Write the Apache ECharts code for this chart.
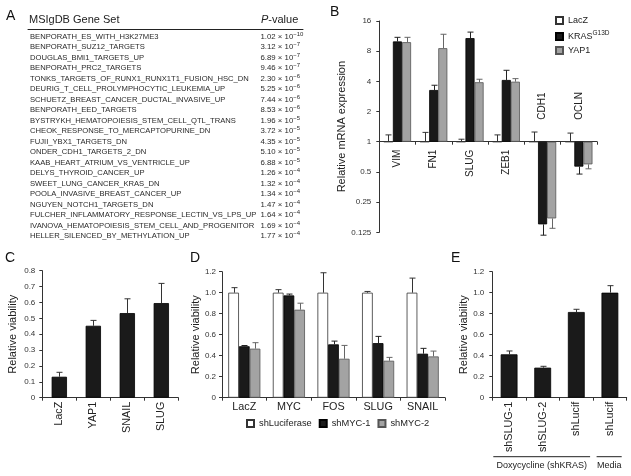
<!DOCTYPE html>
<html><head><meta charset="utf-8">
<script src="https://cdn.jsdelivr.net/npm/echarts@6/dist/echarts.min.js"></script>
<style>html,body{margin:0;padding:0;background:#fff}#c{width:631px;height:476px}</style>
</head><body><div id="c"></div><script>
// ---------- Panel A data ----------
const geneSets = [
  'BENPORATH_ES_WITH_H3K27ME3','BENPORATH_SUZ12_TARGETS','DOUGLAS_BMI1_TARGETS_UP','BENPORATH_PRC2_TARGETS',
  'TONKS_TARGETS_OF_RUNX1_RUNX1T1_FUSION_HSC_DN','DEURIG_T_CELL_PROLYMPHOCYTIC_LEUKEMIA_UP',
  'SCHUETZ_BREAST_CANCER_DUCTAL_INVASIVE_UP','BENPORATH_EED_TARGETS','BYSTRYKH_HEMATOPOIESIS_STEM_CELL_QTL_TRANS',
  'CHEOK_RESPONSE_TO_MERCAPTOPURINE_DN','FUJII_YBX1_TARGETS_DN','ONDER_CDH1_TARGETS_2_DN',
  'KAAB_HEART_ATRIUM_VS_VENTRICLE_UP','DELYS_THYROID_CANCER_UP','SWEET_LUNG_CANCER_KRAS_DN',
  'POOLA_INVASIVE_BREAST_CANCER_UP','NGUYEN_NOTCH1_TARGETS_DN','FULCHER_INFLAMMATORY_RESPONSE_LECTIN_VS_LPS_UP',
  'IVANOVA_HEMATOPOIESIS_STEM_CELL_AND_PROGENITOR','HELLER_SILENCED_BY_METHYLATION_UP'
];
const pMantissa = ['1.02','3.12','6.89','9.46','2.30','5.25','7.44','8.53','1.96','3.72','4.35','5.10','6.88','1.26','1.32','1.34','1.47','1.64','1.69','1.77'];
const pExponent = [-10,-7,-7,-7,-6,-6,-6,-6,-5,-5,-5,-5,-5,-4,-4,-4,-4,-4,-4,-4];

// ---------- Panel B data ----------
const bCategories = ['VIM','FN1','SLUG','ZEB1','CDH1','OCLN'];
const bTicks = [0.125,0.25,0.5,1,2,4,8,16];
const bLacZ = [1,1,1,1,1,1];
const bLacZErr = [1.17,1.24,1.06,1.17,1.25,1.22];
const bKras = [10.0,3.28,10.8,4.13,0.15,0.565];
const bKrasErr = [11.0,3.66,12.4,5.16,0.117,0.476];
const bYap1 = [9.84,8.57,3.92,3.97,0.172,0.595];
const bYap1Err = [11.0,11.8,4.2,4.26,0.137,0.537];

// ---------- Panel C data ----------
const cCategories = ['LacZ','YAP1','SNAIL','SLUG'];
const cValues = [0.132,0.453,0.533,0.596];
const cErr = [0.16,0.487,0.623,0.72];

// ---------- Panel D data ----------
const dCategories = ['LacZ','MYC','FOS','SLUG','SNAIL'];
const dShLuc = [1,1,1,1,1];
const dShLucErr = [1.048,1.029,1.19,1.012,1.139];
const dShMyc1 = [0.49,0.974,0.508,0.52,0.419];
const dShMyc1Err = [0.497,0.987,0.539,0.584,0.47];
const dShMyc2 = [0.467,0.838,0.371,0.352,0.393];
const dShMyc2Err = [0.524,0.90,0.498,0.384,0.444];

// ---------- Panel E data ----------
const eCategories = ['shSLUG-1','shSLUG-2','shLucif','shLucif'];
const eValues = [0.413,0.286,0.816,1.0];
const eErr = [0.445,0.299,0.842,1.067];
const eGroups = ['Doxycycline (shKRAS)','Media'];

const FONT = "'Liberation Sans', Arial, Helvetica, sans-serif";
const INK = '#222';
const WHITE = '#ffffff', BLACK = '#1a1a1a', GRAY = '#a3a3a3';
const TICKFS = 8;

function errorBars(xIdx, yIdx, values, errs, k, n, gap, color) {
  return {
    type: 'custom', xAxisIndex: xIdx, yAxisIndex: yIdx, z: 5, silent: true,
    data: values.map((v, i) => [i, v, errs[i]]),
    encode: { x: 0, y: [1, 2] },
    renderItem(params, api) {
      const i = api.value(0), v = api.value(1), e = api.value(2);
      const p0 = api.coord([i, v]), p1 = api.coord([i, e]);
      const band = api.coord([1, v])[0] - api.coord([0, v])[0];
      const bw = band * (1 - gap) / n;
      const x = Math.round(p0[0] + (k - (n - 1) / 2) * bw) + 0.5;
      const st = { stroke: color, lineWidth: 1 };
      return { type: 'group', children: [
        { type: 'line', shape: { x1: x, y1: p0[1], x2: x, y2: p1[1] }, style: st },
        { type: 'line', shape: { x1: x - 3, y1: p1[1], x2: x + 3, y2: p1[1] }, style: st }
      ]};
    }
  };
}

function vAxis(grid, max, interval, nameGap, margin) {
  return {
    type: 'value', gridIndex: grid, min: 0, max: max, interval: interval,
    name: 'Relative viability', nameLocation: 'middle', nameGap: nameGap,
    nameTextStyle: { fontSize: 11, color: INK, fontFamily: FONT },
    axisLine: { show: true, lineStyle: { color: '#333', width: 1 } },
    axisTick: { show: true, length: 3, lineStyle: { color: '#333' } },
    axisLabel: { fontSize: TICKFS, color: '#333', margin: margin,
      formatter: v => v === 0 ? '0' : v.toFixed(1) },
    splitLine: { show: false }
  };
}
function cAxis(grid, data, rotate, margin) {
  return {
    type: 'category', gridIndex: grid, data: data,
    axisLine: { show: true, onZero: false, lineStyle: { color: '#333', width: 1 } },
    axisTick: { show: true, length: 3, lineStyle: { color: '#333' } },
    axisLabel: { interval: 0, rotate: rotate, fontSize: 10.8, color: INK, margin: margin, fontFamily: FONT }
  };
}

const chart = echarts.init(document.getElementById('c'), null, { renderer: 'canvas' });
const titleStyle = { fontSize: 14, fontWeight: 'normal', color: '#111', fontFamily: FONT };

const option = {
  animation: false,
  backgroundColor: '#fff',
  textStyle: { fontFamily: FONT },
  title: [
    { text: 'A', left: 6, top: 9, padding: 0, textStyle: titleStyle },
    { text: 'B', left: 330, top: 5, padding: 0, textStyle: titleStyle },
    { text: 'C', left: 5, top: 251, padding: 0, textStyle: titleStyle },
    { text: 'D', left: 190, top: 251, padding: 0, textStyle: titleStyle },
    { text: 'E', left: 451, top: 251, padding: 0, textStyle: titleStyle },
    { text: 'MSIgDB Gene Set', left: 29, top: 14, padding: 0,
      textStyle: { fontSize: 11, fontWeight: 'normal', color: INK, fontFamily: FONT } },
    { text: '{i|P}-value', left: 261, top: 14, padding: 0,
      textStyle: { fontSize: 11, fontWeight: 'normal', color: INK, fontFamily: FONT,
        rich: { i: { fontStyle: 'italic', fontSize: 11, color: INK, fontFamily: FONT } } } }
  ],
  legend: [
    { orient: 'vertical', left: 555, top: 16, itemWidth: 7, itemHeight: 7, itemGap: 5, padding: 0,
      data: ['LacZ', 'KRAS', 'YAP1'], icon: 'rect',
      textStyle: { fontSize: 9, color: INK, fontFamily: FONT,
        rich: { n: { fontSize: 9, color: INK, lineHeight: 13 }, s: { fontSize: 6.5, color: INK, verticalAlign: 'top' } } },
      formatter: name => name === 'KRAS' ? '{n|KRAS}{s|G13D}' : name },
    { orient: 'horizontal', left: 246, top: 419, itemWidth: 7, itemHeight: 7, itemGap: 7, padding: 0,
      data: ['shLuciferase', 'shMYC-1', 'shMYC-2'], icon: 'rect',
      textStyle: { fontSize: 9.3, color: INK, fontFamily: FONT } }
  ],
  grid: [
    { left: 28, top: 31.5, width: 275, height: 210 },      // 0 A names
    { left: 259, top: 31.5, width: 45, height: 210 },      // 1 A p-values
    { left: 379.3, top: 21, width: 217.7, height: 211.3 }, // 2 B
    { left: 42.3, top: 270.7, width: 136, height: 127 },   // 3 C
    { left: 222, top: 271.7, width: 223, height: 126 },    // 4 D
    { left: 492.3, top: 271.7, width: 134.4, height: 126 } // 5 E
  ],
  xAxis: [
    { type: 'value', gridIndex: 0, min: 0, max: 1, position: 'top', offset: 2.5,
      axisLine: { show: true, onZero: false, lineStyle: { color: '#222', width: 1 } },
      axisTick: { show: false }, axisLabel: { show: false }, splitLine: { show: false } },
    { type: 'value', gridIndex: 1, min: 0, max: 1, show: false },
    { type: 'category', gridIndex: 2, data: bCategories, position: 'bottom', offset: -90.6,
      axisLine: { show: true, onZero: false, lineStyle: { color: '#333', width: 1 } },
      axisTick: { show: true, length: 3, lineStyle: { color: '#333' } },
      axisLabel: { interval: 0, rotate: 90, fontSize: 10, color: INK, margin: 8, fontFamily: FONT,
        formatter: (v, i) => i < 4 ? v : '' } },
    { type: 'category', gridIndex: 2, data: bCategories, position: 'bottom', offset: -90.6,
      axisLine: { show: false, onZero: false }, axisTick: { show: false },
      axisLabel: { interval: 0, inside: true, rotate: 90, fontSize: 10, color: INK, margin: 22, fontFamily: FONT,
        formatter: (v, i) => i >= 4 ? v : '' } },
    cAxis(3, cCategories, 90, 4),
    cAxis(4, dCategories, 0, 4),
    cAxis(5, eCategories, 90, 4)
  ],
  yAxis: [
    { type: 'category', gridIndex: 0, data: geneSets, inverse: true,
      axisLine: { show: false }, axisTick: { show: false }, splitLine: { show: false },
      axisLabel: { inside: true, interval: 0, margin: 2, fontSize: 7.65, color: '#2a2a2a', fontFamily: FONT } },
    { type: 'category', gridIndex: 1, data: pMantissa, inverse: true,
      axisLine: { show: false }, axisTick: { show: false }, splitLine: { show: false },
      axisLabel: { inside: true, interval: 0, margin: 1.5, color: '#2a2a2a', fontFamily: FONT,
        formatter: (v, i) => '{m|' + v + ' \u00d7 10}{s|\u2212' + Math.abs(pExponent[i]) + '}',
        rich: { m: { fontSize: 7.8, color: '#2a2a2a', lineHeight: 11 }, s: { fontSize: 6, color: '#2a2a2a', verticalAlign: 'top' } } } },
    { type: 'log', logBase: 2, gridIndex: 2, min: bTicks[0], max: bTicks[bTicks.length - 1], interval: 1,
      name: 'Relative mRNA expression', nameLocation: 'middle', nameGap: 27,
      nameTextStyle: { fontSize: 11, color: INK, fontFamily: FONT },
      axisLine: { show: true, onZero: false, lineStyle: { color: '#333', width: 1 } },
      axisTick: { show: true, length: 3, lineStyle: { color: '#333' } },
      axisLabel: { fontSize: TICKFS, color: '#333', margin: 8, formatter: v => String(+(+v).toPrecision(6)) },
      splitLine: { show: false } },
    vAxis(3, 0.8, 0.1, 24, 7),
    vAxis(4, 1.2, 0.2, 17, 6),
    vAxis(5, 1.2, 0.2, 21, 8)
  ],
  series: [
    // B
    { name: 'LacZ', type: 'bar', xAxisIndex: 2, yAxisIndex: 2, data: bLacZ, barGap: '0%', barCategoryGap: '25%',
      itemStyle: { color: WHITE, borderColor: '#333', borderWidth: 0.8 } },
    { name: 'KRAS', type: 'bar', xAxisIndex: 2, yAxisIndex: 2, data: bKras, barGap: '0%', barCategoryGap: '25%',
      itemStyle: { color: BLACK, borderColor: '#000', borderWidth: 0.8 } },
    { name: 'YAP1', type: 'bar', xAxisIndex: 2, yAxisIndex: 2, data: bYap1, barGap: '0%', barCategoryGap: '25%',
      itemStyle: { color: GRAY, borderColor: '#555', borderWidth: 0.8 } },
    errorBars(2, 2, bLacZ, bLacZErr, 0, 3, 0.25, '#333'),
    errorBars(2, 2, bKras, bKrasErr, 1, 3, 0.25, '#222'),
    errorBars(2, 2, bYap1, bYap1Err, 2, 3, 0.25, '#666'),
    // C
    { name: 'C', type: 'bar', xAxisIndex: 4, yAxisIndex: 3, data: cValues, barCategoryGap: '55%',
      itemStyle: { color: BLACK, borderColor: '#000', borderWidth: 0.8 } },
    errorBars(4, 3, cValues, cErr, 0, 1, 0.55, '#333'),
    // D
    { name: 'shLuciferase', type: 'bar', xAxisIndex: 5, yAxisIndex: 4, data: dShLuc, barGap: '0%', barCategoryGap: '28%',
      itemStyle: { color: WHITE, borderColor: '#333', borderWidth: 0.8 } },
    { name: 'shMYC-1', type: 'bar', xAxisIndex: 5, yAxisIndex: 4, data: dShMyc1, barGap: '0%', barCategoryGap: '28%',
      itemStyle: { color: BLACK, borderColor: '#000', borderWidth: 0.8 } },
    { name: 'shMYC-2', type: 'bar', xAxisIndex: 5, yAxisIndex: 4, data: dShMyc2, barGap: '0%', barCategoryGap: '28%',
      itemStyle: { color: GRAY, borderColor: '#555', borderWidth: 0.8 } },
    errorBars(5, 4, dShLuc, dShLucErr, 0, 3, 0.28, '#333'),
    errorBars(5, 4, dShMyc1, dShMyc1Err, 1, 3, 0.28, '#222'),
    errorBars(5, 4, dShMyc2, dShMyc2Err, 2, 3, 0.28, '#666'),
    // E
    { name: 'E', type: 'bar', xAxisIndex: 6, yAxisIndex: 5, data: eValues, barCategoryGap: '50%',
      itemStyle: { color: BLACK, borderColor: '#000', borderWidth: 0.8 } },
    errorBars(6, 5, eValues, eErr, 0, 1, 0.5, '#333')
  ]
};
chart.setOption(option);

// group annotations under panel E, positioned from the E category axis
const ex0 = chart.convertToPixel({ xAxisIndex: 6 }, 0);
const ex1 = chart.convertToPixel({ xAxisIndex: 6 }, 1);
const band = ex1 - ex0;
const g1L = ex0 - band / 2 + 1, g1R = ex0 + 2 * band + band / 2 - 3;
const g2L = ex0 + 3 * band - band / 2 + 3.5, g2R = ex0 + 3 * band + band / 2 - 5;
const lineY = 456.7;
chart.setOption({
  graphic: [
    { type: 'line', shape: { x1: g1L, y1: lineY, x2: g1R, y2: lineY }, style: { stroke: '#222', lineWidth: 1 } },
    { type: 'line', shape: { x1: g2L, y1: lineY, x2: g2R, y2: lineY }, style: { stroke: '#222', lineWidth: 1 } },
    { type: 'text', x: (g1L + g1R) / 2, y: lineY + 9, style: { text: eGroups[0], fill: INK, font: '9px ' + FONT, align: 'center', verticalAlign: 'middle' } },
    { type: 'text', x: (g2L + g2R) / 2, y: lineY + 9, style: { text: eGroups[1], fill: INK, font: '9px ' + FONT, align: 'center', verticalAlign: 'middle' } }
  ]
});
</script></body></html>
